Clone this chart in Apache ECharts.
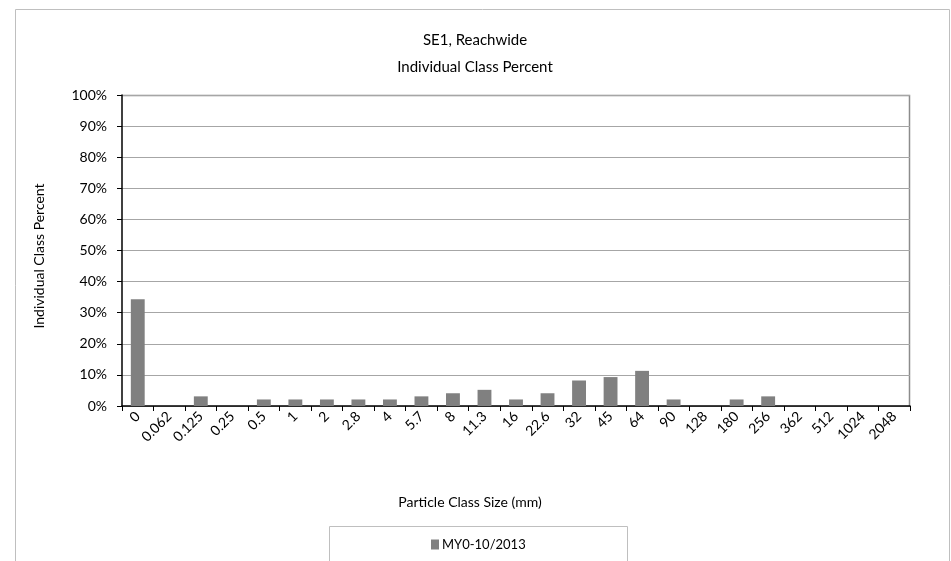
<!DOCTYPE html>
<html>
<head>
<meta charset="utf-8">
<script src="https://cdn.jsdelivr.net/npm/echarts@6/dist/echarts.min.js"></script>
<style>
  html, body { margin: 0; padding: 0; background: #ffffff; }
  #chart { width: 951px; height: 561px; }
</style>
</head>
<body>
<div id="chart"></div>
<script>
// Particle size classes (mm)
const sizeClasses = ['0', '0.062', '0.125', '0.25', '0.5', '1', '2', '2.8', '4', '5.7', '8', '11.3',
  '16', '22.6', '32', '45', '64', '90', '128', '180', '256', '362', '512', '1024', '2048'];

// Individual class percent, MY0-10/2013
const classPercent = [34.3, 0, 3.1, 0, 2.1, 2.1, 2.1, 2.1, 2.1, 3.1, 4.1, 5.2,
  2.1, 4.1, 8.2, 9.3, 11.3, 2.1, 0, 2.1, 3.1, 0, 0, 0, 0];

const seriesName = 'MY0-10/2013';
const titleLines = ['SE1, Reachwide', 'Individual Class Percent'];
const xAxisTitle = 'Particle Class Size (mm)';
const yAxisTitle = 'Individual Class Percent';

const FONT = 'Lato, "Open Sans", sans-serif';
const chart = echarts.init(document.getElementById('chart'));

chart.setOption({
  animation: false,
  backgroundColor: '#ffffff',
  textStyle: { fontFamily: FONT, color: '#000' },
  grid: { left: 122, right: 41, top: 95, bottom: 155, containLabel: false },
  graphic: [
    { type: 'rect', left: 13, top: 7, shape: { width: 934, height: 560 },
      style: { fill: 'none', stroke: '#bfbfbf', lineWidth: 1 }, silent: true },
    { type: 'text', x: 475, y: 40, style: { text: titleLines[0], font: '15px ' + FONT, fill: '#000', align: 'center', verticalAlign: 'middle' } },
    { type: 'text', x: 475, y: 67, style: { text: titleLines[1], font: '15px ' + FONT, fill: '#000', align: 'center', verticalAlign: 'middle' } },
    { type: 'text', x: 470, y: 502, style: { text: xAxisTitle, font: '14px ' + FONT, fill: '#000', align: 'center', verticalAlign: 'middle' } },
    { type: 'text', x: 39, y: 256, rotation: Math.PI / 2, style: { text: yAxisTitle, font: '14px ' + FONT, fill: '#000', align: 'center', verticalAlign: 'middle' } },
    { type: 'rect', left: 327, top: 524, shape: { width: 298, height: 35 },
      style: { fill: 'none', stroke: '#bfbfbf', lineWidth: 1 }, silent: true },
    // plot area frame (top and right edges)
    { type: 'polyline', shape: { points: [[122, 95.5], [909.5, 95.5], [909.5, 406]] },
      style: { stroke: '#8c8c8c', lineWidth: 1.5, fill: 'none' }, silent: true }
  ],
  legend: {
    left: 426, top: 533,
    itemWidth: 8, itemHeight: 10, itemGap: 4,
    icon: 'rect',
    textStyle: { fontFamily: FONT, fontSize: 13, color: '#000', padding: [0, 0, 0, -2] },
    data: [seriesName]
  },
  xAxis: {
    type: 'category',
    data: sizeClasses,
    boundaryGap: true,
    axisLine: { lineStyle: { color: '#000', width: 1.5 } },
    axisTick: { show: true, alignWithLabel: false, length: 5, lineStyle: { color: '#000' } },
    axisLabel: { interval: 0, rotate: 45, fontFamily: FONT, fontSize: 14, color: '#000', margin: 8 },
    splitLine: { show: false }
  },
  yAxis: {
    type: 'value',
    min: 0, max: 100, interval: 10,
    axisLine: { show: true, lineStyle: { color: '#000', width: 1.5 } },
    axisTick: { show: true, length: 5, lineStyle: { color: '#000' } },
    axisLabel: { formatter: '{value}%', fontFamily: FONT, fontSize: 14, color: '#000', margin: 15 },
    splitLine: { show: true, lineStyle: { color: '#a6a6a6', width: 1 } }
  },
  series: [{
    name: seriesName,
    type: 'bar',
    data: classPercent,
    barWidth: '44%',
    itemStyle: { color: '#808080' }
  }]
});
</script>
</body>
</html>
